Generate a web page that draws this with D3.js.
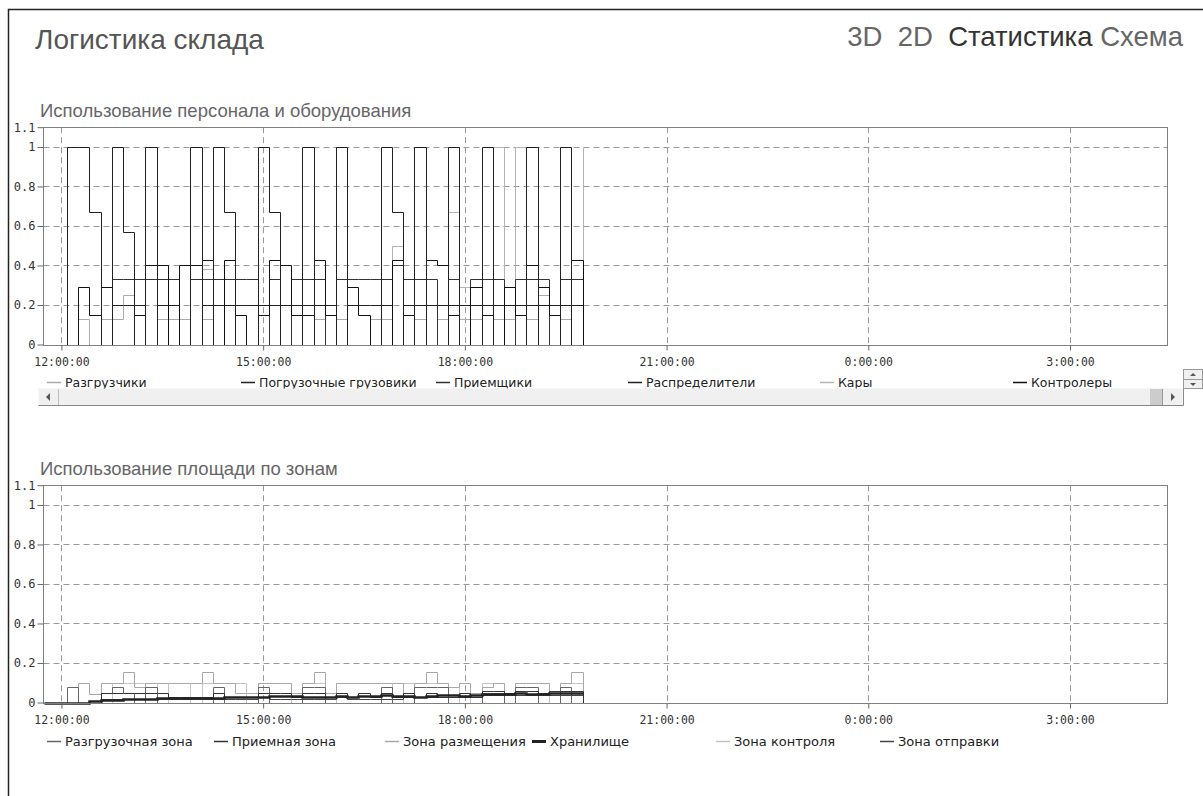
<!DOCTYPE html>
<html>
<head>
<meta charset="utf-8">
<script src="https://cdn.jsdelivr.net/npm/d3@7"></script>
<style>
  body { margin: 0; background: #fff; }
  svg { display: block; }
</style>
</head>
<body>
<svg id="page"></svg>
<script>
// размеры страницы
var pageWidth = 1203;
var pageHeight = 796;

// ---- данные ----
// начало первого интервала и шаг (мин), 46 интервалов
var firstSlot = new Date(2020, 0, 1, 12, 5);
var slotMinutes = 10;
var axisStart = new Date(2020, 0, 1, 11, 44);
var axisEnd = new Date(2020, 0, 2, 4, 27);
var yTicks = [0, 0.2, 0.4, 0.6, 0.8, 1, 1.1];

// персонал и оборудование (последнее значение - конечная точка)
var staffNames = ["Разгрузчики", "Погрузочные грузовики", "Приемщики", "Распределители", "Кары", "Контролеры"];
var razgruzchiki = [0,0.13,0,0.13,0.13,0.25,0,0,0.13,0.13,0.13,0,0.13,0,0,0,0,0,0,0,0,0,0.13,0,0.13,0,0,0.13,0.13,0,0,0.13,0,0.13,0,0.13,0.13,0,0.13,0.13,0,0.13,0.25,0,0.13,0, 0];
var gruzoviki = [1,1,0.67,0,1,0.57,0,1,0,0,0,1,0,1,0.67,0,0,1,0.67,0,0,1,0,0,1,0,0,0,1,0.67,0,1,0,0,1,0,0,1,0,0,0,1,0,0,1,0, 0];
var priemshiki = [0,0,0,0,0.33,0.33,0.33,0.33,0.33,0.33,0,0.33,0.33,0.33,0.33,0.33,0.33,0,0.33,0,0.33,0.33,0.33,0,0.33,0.33,0.33,0.33,0.33,0.4,0.33,0.33,0.33,0,0.33,0,0.33,0.33,0.33,0,0.33,0.33,0.33,0,0.33,0.33, 0];
var raspredeliteli = [0,0,0,0,0.2,0.2,0.2,0,0.2,0.2,0,0,0.2,0.2,0.2,0.2,0.2,0.2,0.2,0.2,0.2,0.2,0.2,0.2,0,0.2,0.2,0.2,0.2,0,0.2,0.2,0.2,0.2,0.2,0.2,0.2,0.2,0.2,0.2,0.2,0.2,0.2,0.2,0.2,0.2, 0];
var kary = [0,0,0,0,0,0,0,0,0,0,0,0,0.38,0,0,0,0,0,0,0,0,0,0,0,0,0,0,0,0,0.5,0,0,0,0,0.67,0.29,0,0,1,0,1,0,0,0,0,0, 1];
var kontrolery = [0,0.29,0.15,0.29,0,0,0.15,0.4,0.4,0,0.4,0.4,0.43,0,0.43,0.15,0,0.15,0.43,0.4,0.15,0.15,0.43,0.15,0,0.29,0.15,0,0,0.43,0.15,0,0.43,0.4,0.15,0,0.29,0.15,0,0.29,0.15,0.4,0.29,0.15,0,0.43, 0];

// площадь по зонам
var zoneNames = ["Разгрузочная зона", "Приемная зона", "Зона размещения", "Хранилище", "Зона контроля", "Зона отправки"];
var razgruzZona = [0.076,0,0,0.05,0.076,0.05,0,0.076,0,0,0,0,0,0.076,0,0,0,0.076,0,0,0,0.076,0.076,0,0,0,0,0,0.076,0,0,0.076,0.076,0.076,0,0,0,0.05,0.05,0,0.076,0.076,0,0,0.076,0, 0];
var priemZona = [0,0,0.01,0.05,0.05,0.05,0.05,0.05,0.05,0.03,0.03,0.03,0.03,0.05,0.03,0.03,0.03,0.05,0.05,0.05,0.03,0.05,0.05,0.03,0.05,0.03,0.05,0.03,0.05,0.03,0.05,0.03,0.05,0.03,0.03,0.05,0.03,0.06,0.06,0.05,0.06,0.06,0.05,0.06,0.06,0.06, 0];
var razmeshZona = [0,0.1,0.045,0.1,0.1,0.155,0.08,0.1,0.1,0.1,0.1,0.1,0.155,0.1,0.1,0.05,0.05,0.1,0.1,0.1,0.05,0.1,0.155,0.05,0.1,0.1,0.1,0.1,0.1,0.1,0.05,0.1,0.155,0.1,0.08,0.1,0.05,0.08,0.1,0.05,0.1,0.1,0.1,0.05,0.1,0.155, 0];
var hranilishe = [0,0,0.01,0.015,0.015,0.02,0.02,0.02,0.025,0.025,0.025,0.025,0.025,0.025,0.03,0.03,0.03,0.03,0.035,0.035,0.035,0.03,0.03,0.03,0.035,0.03,0.035,0.035,0.04,0.035,0.035,0.03,0.035,0.04,0.04,0.035,0.04,0.045,0.045,0.045,0.05,0.045,0.045,0.05,0.05,0.05, 0.05];
var kontrolZona = [0,0,0,0,0.1,0.1,0.1,0.1,0,0.1,0.1,0,0.1,0.1,0.1,0.1,0,0.1,0.1,0.1,0,0.1,0.1,0,0.1,0.1,0.1,0.1,0.1,0,0.1,0.1,0.1,0.1,0,0.1,0,0.1,0.1,0,0.1,0.1,0.1,0,0.1,0.1, 0];
var otpravkaZona = [0,0,0,0.02,0.02,0.02,0.02,0.02,0.02,0.02,0.02,0.02,0.02,0.02,0.02,0.02,0.02,0.03,0.02,0.02,0.02,0.02,0.02,0.02,0.03,0.02,0.02,0.02,0.02,0.02,0.03,0.03,0.03,0.03,0.03,0.03,0.03,0.04,0.04,0.04,0.04,0.04,0.04,0.04,0.04,0.04, 0];

// ---- оформление ----
var staffStyle = [
  {color: "#aaa", width: 1}, {color: "#222", width: 1}, {color: "#333", width: 1},
  {color: "#222", width: 1}, {color: "#b4b4b4", width: 1}, {color: "#111", width: 1}
];
var zoneStyle = [
  {color: "#666", width: 1}, {color: "#333", width: 1}, {color: "#a8a8a8", width: 1},
  {color: "#222", width: 2.5}, {color: "#c4c4c4", width: 1}, {color: "#444", width: 1}
];
var drawOrder = [0, 4, 2, 3, 5, 1];      // светлые линии снизу
var zoneOrder = [4, 2, 0, 5, 1, 3];
var staffLegendX = [47, 241, 436, 628, 820, 1013];
var zoneLegendX = [47, 214, 385, 532, 716, 880];

var plotLeft = 43.5, plotRight = 1167.5;

var svg = d3.select("#page")
  .attr("width", pageWidth)
  .attr("height", pageHeight)
  .attr("viewBox", [0, 0, pageWidth, pageHeight]);

// рамка страницы
svg.append("path")
  .attr("d", "M8.5," + pageHeight + "V9.5H" + pageWidth)
  .attr("fill", "none")
  .attr("stroke", "#222")
  .attr("stroke-width", 1.5);

svg.append("text")
  .text("Логистика склада")
  .attr("x", 35).attr("y", 49)
  .attr("font-family", "Liberation Sans, Arial, sans-serif")
  .attr("font-size", "28px")
  .attr("fill", "#555");

var nav = svg.append("text")
  .attr("x", 1183).attr("y", 46)
  .attr("text-anchor", "end")
  .attr("font-family", "Liberation Sans, Arial, sans-serif")
  .attr("font-size", "27.5px");
nav.append("tspan").text("3D\u00a0\u00a02D\u00a0\u00a0").attr("fill", "#666");
nav.append("tspan").text("Статистика ").attr("fill", "#333");
nav.append("tspan").text("Схема").attr("fill", "#666");

var x = d3.scaleTime().domain([axisStart, axisEnd]).range([plotLeft, plotRight]);

function toPoints(vals) {
  var pts = [{t: axisStart, v: 0}];
  vals.forEach(function(v, i) {
    pts.push({t: d3.timeMinute.offset(firstSlot, slotMinutes * i), v: v});
  });
  return pts;
}

function drawChart(cfg) {
  var g = svg.append("g");
  var y = d3.scaleLinear().domain([0, 1.1]).range([cfg.y0, cfg.y0 - 217.3]);

  g.append("text")
    .text(cfg.title)
    .attr("x", 40).attr("y", cfg.y0 - 228)
    .attr("font-family", "Liberation Sans, Arial, sans-serif")
    .attr("font-size", "18.5px")
    .attr("fill", "#666");

  // сетка
  g.append("g").selectAll("line")
    .data(yTicks.filter(function(d) { return d > 0 && d < 1.1; }))
    .enter().append("line")
    .attr("x1", plotLeft).attr("x2", plotRight)
    .attr("y1", function(d) { return Math.round(y(d)) + 0.5; })
    .attr("y2", function(d) { return Math.round(y(d)) + 0.5; })
    .attr("stroke", "#999").attr("stroke-dasharray", "6,4");
  g.append("g").selectAll("line")
    .data(x.ticks(d3.timeHour.every(3)))
    .enter().append("line")
    .attr("x1", function(d) { return Math.round(x(d)) + 0.5; })
    .attr("x2", function(d) { return Math.round(x(d)) + 0.5; })
    .attr("y1", y(1.1)).attr("y2", y(0))
    .attr("stroke", "#999").attr("stroke-dasharray", "6,4");

  // линии серий
  var line = d3.line()
    .x(function(d) { return Math.round(x(d.t)) + 0.5; })
    .y(function(d) { return Math.round(y(d.v)) + 0.5; })
    .curve(d3.curveStepAfter);
  cfg.order.forEach(function(k) {
    g.append("path")
      .datum(toPoints(cfg.series[k]))
      .attr("d", line)
      .attr("fill", "none")
      .attr("stroke", cfg.styles[k].color)
      .attr("stroke-width", cfg.styles[k].width);
  });

  // рамка
  g.append("rect")
    .attr("x", plotLeft).attr("y", Math.round(y(1.1)) + 0.5)
    .attr("width", plotRight - plotLeft)
    .attr("height", Math.round(y(0)) - Math.round(y(1.1)))
    .attr("fill", "none").attr("stroke", "#808080");

  var yAxis = d3.axisLeft(y).tickValues(yTicks).tickFormat(d3.format("~g")).tickSize(6).tickPadding(2);
  var ya = g.append("g").attr("transform", "translate(" + plotLeft + ",0)").call(yAxis);
  ya.select(".domain").remove();
  ya.selectAll("line").attr("stroke", "#666");
  ya.selectAll("text").attr("font-family", "DejaVu Sans Mono, monospace").attr("font-size", "12px").attr("fill", "#333");

  var xAxis = d3.axisBottom(x).ticks(d3.timeHour.every(3)).tickFormat(d3.timeFormat("%-H:%M:%S")).tickSize(5).tickPadding(7);
  var xa = g.append("g").attr("transform", "translate(0," + (Math.round(y(0)) + 0.5) + ")").call(xAxis);
  xa.select(".domain").remove();
  xa.selectAll("line").attr("stroke", "#666");
  xa.selectAll("text").attr("font-family", "DejaVu Sans Mono, monospace").attr("font-size", "11.5px").attr("fill", "#333");

  // легенда
  var lg = g.append("g").selectAll("g")
    .data(cfg.names)
    .enter().append("g")
    .attr("transform", function(d, i) { return "translate(" + cfg.legendX[i] + "," + (cfg.y0 + cfg.legendDy) + ")"; });
  lg.append("line")
    .attr("x1", 0).attr("x2", 14).attr("y1", -4).attr("y2", -4)
    .attr("stroke", function(d, i) { return cfg.styles[i].color; })
    .attr("stroke-width", function(d, i) { return cfg.styles[i].width > 1 ? 3 : 1.5; });
  lg.append("text")
    .text(function(d) { return d; })
    .attr("x", 18)
    .attr("font-family", "DejaVu Sans, sans-serif")
    .attr("font-size", cfg.legendFont)
    .attr("fill", "#222");
  return g;
}

drawChart({
  title: "Использование персонала и оборудования",
  y0: 344.5,
  names: staffNames,
  series: [razgruzchiki, gruzoviki, priemshiki, raspredeliteli, kary, kontrolery],
  styles: staffStyle,
  order: drawOrder,
  legendX: staffLegendX,
  legendDy: 42,
  legendFont: "12.5px"
});

// полоса прокрутки под первым графиком
var sb = svg.append("g");
sb.append("rect").attr("x", 38.5).attr("y", 388.5).attr("width", 1144).attr("height", 17)
  .attr("fill", "#f0f0f0").attr("stroke", "none");
sb.append("path").attr("d", "M38.5,405.5H1183.5V388.5").attr("fill", "none").attr("stroke", "#888");
sb.append("path").attr("d", "M58.5,389V405").attr("stroke", "#bbb");
sb.append("path").attr("d", "M50,393L46,397L50,401Z").attr("fill", "#555");
sb.append("rect").attr("x", 1150).attr("y", 389).attr("width", 12).attr("height", 16).attr("fill", "#ccc");
sb.append("path").attr("d", "M1162.5,389V405").attr("stroke", "#999");
sb.append("path").attr("d", "M1171,393L1175,397L1171,401Z").attr("fill", "#555");
sb.append("rect").attr("x", 1183.5).attr("y", 369.5).attr("width", 19).attr("height", 19)
  .attr("fill", "#f0f0f0").attr("stroke", "#999");
sb.append("path").attr("d", "M1184,379.5H1203").attr("stroke", "#999");
sb.append("path").attr("d", "M1190,376L1193,373L1196,376Z").attr("fill", "#555");
sb.append("path").attr("d", "M1190,383L1193,386L1196,383Z").attr("fill", "#555");

drawChart({
  title: "Использование площади по зонам",
  y0: 702.5,
  names: zoneNames,
  series: [razgruzZona, priemZona, razmeshZona, hranilishe, kontrolZona, otpravkaZona],
  styles: zoneStyle,
  order: zoneOrder,
  legendX: zoneLegendX,
  legendDy: 43,
  legendFont: "13px"
});
</script>
</body>
</html>
